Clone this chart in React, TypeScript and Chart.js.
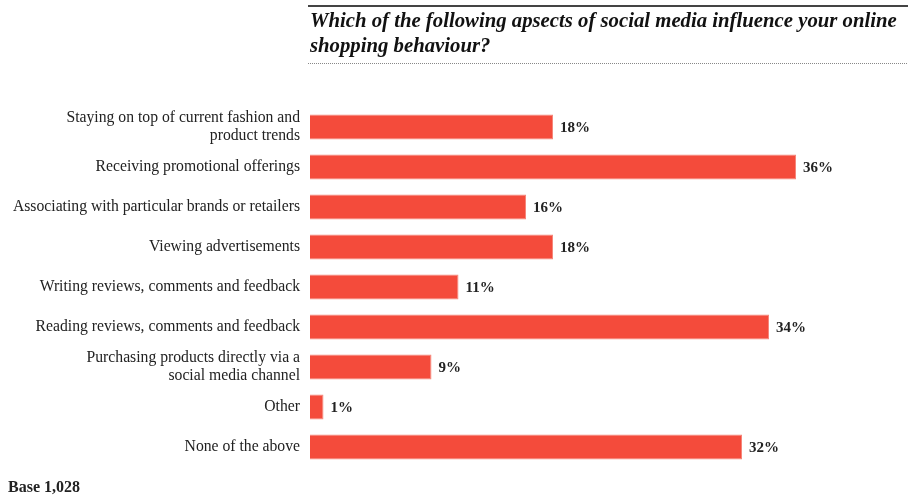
import React, { useEffect, useRef } from "react";
import { Chart, registerables } from "chart.js";

Chart.register(...registerables);

const categories: (string | string[])[] = [
  ["Staying on top of current fashion and", "product trends"],
  "Receiving promotional offerings",
  "Associating with particular brands or retailers",
  "Viewing advertisements",
  "Writing reviews, comments and feedback",
  "Reading reviews, comments and feedback",
  ["Purchasing products directly via a", "social media channel"],
  "Other",
  "None of the above",
];
const values: number[] = [18, 36, 16, 18, 11, 34, 9, 1, 32];
const titleLines: string[] = [
  "Which of the following apsects of social media influence your online",
  "shopping behaviour?",
];
const footnote = "Base 1,028";

const SERIF = "'Liberation Serif', 'DejaVu Serif', serif";

export default function App() {
  const ref = useRef<HTMLCanvasElement | null>(null);
  useEffect(() => {
    document.body.style.margin = "0";
    const canvas = ref.current;
    if (!canvas) return;
    const decor = {
      id: "decor",
      afterDraw(chart: any) {
        const ctx = chart.ctx as CanvasRenderingContext2D;
        ctx.save();
        ctx.strokeStyle = "#444";
        ctx.lineWidth = 2;
        ctx.beginPath();
        ctx.moveTo(308, 6);
        ctx.lineTo(908, 6);
        ctx.stroke();
        ctx.strokeStyle = "#888";
        ctx.lineWidth = 1;
        ctx.setLineDash([1, 1]);
        ctx.beginPath();
        ctx.moveTo(308, 63.5);
        ctx.lineTo(908, 63.5);
        ctx.stroke();
        ctx.setLineDash([]);
        ctx.fillStyle = "#111";
        ctx.font = `italic bold 20.75px ${SERIF}`;
        ctx.textBaseline = "alphabetic";
        ctx.textAlign = "left";
        titleLines.forEach((t, i) => ctx.fillText(t, 310, 27 + i * 25));
        ctx.font = `bold 16px ${SERIF}`;
        ctx.fillStyle = "#222";
        ctx.fillText(footnote, 8, 492);
        const meta = chart.getDatasetMeta(0);
        ctx.font = `bold 15px ${SERIF}`;
        ctx.textBaseline = "middle";
        meta.data.forEach((bar: any, i: number) => {
          ctx.fillText(values[i] + "%", bar.x + 7, bar.y + 1);
        });
        ctx.restore();
      },
    };
    const chart = new Chart(canvas, {
      type: "bar",
      data: {
        labels: categories,
        datasets: [
          {
            data: values,
            backgroundColor: "#F44B3B",
            borderColor: "#F6867A",
            borderWidth: 1,
            barPercentage: 0.63,
            categoryPercentage: 1,
          },
        ],
      },
      options: {
        indexAxis: "y",
        animation: false,
        responsive: false,
        devicePixelRatio: 1,
        layout: { padding: { top: 107, bottom: 29, left: 0, right: 4 } },
        plugins: {
          legend: { display: false },
          title: { display: false },
          tooltip: { enabled: false },
        },
        scales: {
          x: { display: false, min: 0, max: 44 },
          y: {
            grid: { display: false },
            border: { display: false },
            ticks: {
              color: "#222",
              padding: 2,
              font: { family: SERIF, size: 15.7, lineHeight: 1.1 },
            },
            afterFit(scale: any) {
              scale.width = 310;
            },
          },
        },
      },
      plugins: [decor],
    });
    return () => chart.destroy();
  }, []);
  return <canvas ref={ref} width={908} height={496} style={{ display: "block" }} />;
}
